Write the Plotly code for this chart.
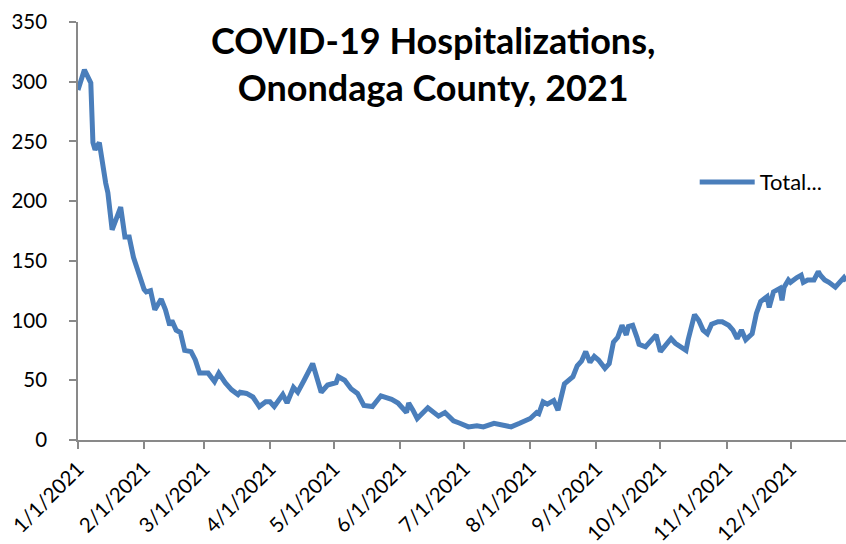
import pandas as pd
import plotly.graph_objects as go

# Day offsets from 1/1/2021 and hospitalization counts
day_offsets = [0, 2, 3, 6, 7, 8, 10, 13, 14, 16, 18, 20, 22, 24, 26, 28, 31, 32, 34, 36, 39, 41, 43, 44, 46, 48,
               50, 53, 55, 57, 61, 64, 66, 69, 72, 75, 76, 79, 82, 85, 88, 90, 92, 96, 98, 101, 103, 106, 110,
               114, 117, 121, 122, 125, 128, 131, 132, 134, 138, 142, 147, 150, 154, 155, 157, 159, 164, 169,
               172, 176, 179, 183, 187, 190, 195, 199, 203, 207, 210, 212, 215, 216, 218, 220, 223, 225, 228,
               230, 232, 234, 236, 238, 240, 242, 244, 247, 249, 251, 253, 255, 257, 258, 260, 262, 263, 266,
               270, 271, 273, 275, 278, 280, 283, 285, 286, 289, 291, 293, 295, 297, 300, 302, 305, 307, 309,
               311, 313, 316, 318, 320, 323, 324, 326, 329, 330, 331, 333, 334, 337, 339, 340, 342, 345, 347,
               348, 350, 352, 355, 357, 359, 360]
hospitalized = [293, 303, 310, 299, 249, 243, 249, 215, 207, 176, 185, 195, 170, 170, 153, 141, 126, 124, 125, 109,
                118, 109, 96, 100, 92, 90, 75, 74, 67, 56, 56, 49, 56, 48, 42, 38, 40, 39, 36, 28, 32, 32, 28,
                38, 31, 44, 40, 50, 64, 40, 46, 48, 53, 50, 43, 39, 35, 29, 28, 37, 34, 31, 23, 31, 25, 18, 27,
                20, 23, 16, 14, 11, 12, 11, 14, 13, 11, 14, 16, 18, 23, 22, 32, 30, 33, 25, 47, 50, 53, 62, 66,
                74, 65, 70, 67, 60, 64, 82, 86, 96, 88, 95, 96, 86, 80, 78, 85, 88, 74, 78, 85, 81, 78, 75, 84,
                105, 100, 92, 89, 97, 99, 99, 96, 92, 85, 92, 84, 89, 106, 116, 120, 111, 124, 127, 117, 128,
                134, 132, 136, 138, 132, 134, 134, 141, 138, 134, 132, 128, 132, 136, 133]

month_ticks = ["2021-%02d-01" % m for m in range(1, 13)]
month_labels = ["%d/1/2021" % m for m in range(1, 13)]
y_ticks = [0, 50, 100, 150, 200, 250, 300, 350]

dates = pd.Timestamp("2021-01-01") + pd.to_timedelta(day_offsets, unit="D")

axis_color = "#898989"
font_family = "Lato, 'Open Sans', sans-serif"

fig = go.Figure()
fig.add_trace(go.Scatter(
    x=dates, y=hospitalized, mode="lines", name="Total...",
    line=dict(color="#4a7ebb", width=5, shape="linear"),
))

fig.update_layout(
    width=846, height=544,
    margin=dict(l=78, r=0, t=22, b=104),
    paper_bgcolor="white", plot_bgcolor="white",
    font=dict(family=font_family, size=21, color="black"),
    title=dict(
        text="<b>COVID-19 Hospitalizations,<br>Onondaga County, 2021</b>",
        x=0.512, xanchor="center", y=0.90, yanchor="top",
        font=dict(family=font_family, size=36, color="black"),
    ),
    showlegend=True,
    legend=dict(x=0.803, y=0.617, xanchor="left", yanchor="middle",
                bgcolor="rgba(0,0,0,0)", itemwidth=55,
                font=dict(size=22, family=font_family)),
    xaxis=dict(
        type="date", range=[dates[0], dates[-1]], automargin=False,
        tickvals=month_ticks, ticktext=month_labels, tickangle=-45,
        showgrid=False, zeroline=False, showline=True, linecolor=axis_color, linewidth=1.5,
        ticks="outside", ticklen=7, tickcolor=axis_color, tickwidth=1.5,
        tickfont=dict(size=20.5),
    ),
    yaxis=dict(
        range=[0, 350], tickvals=y_ticks, automargin=False,
        showgrid=False, zeroline=False, showline=True, linecolor=axis_color, linewidth=1.5,
        ticks="outside", ticklen=7, tickcolor=axis_color, tickwidth=1.5,
        ticklabelstandoff=18,
        tickfont=dict(size=20.5),
    ),
)

fig.write_html("out.html", config={"displayModeBar": False},
               post_script="document.body.style.margin='0px';")
